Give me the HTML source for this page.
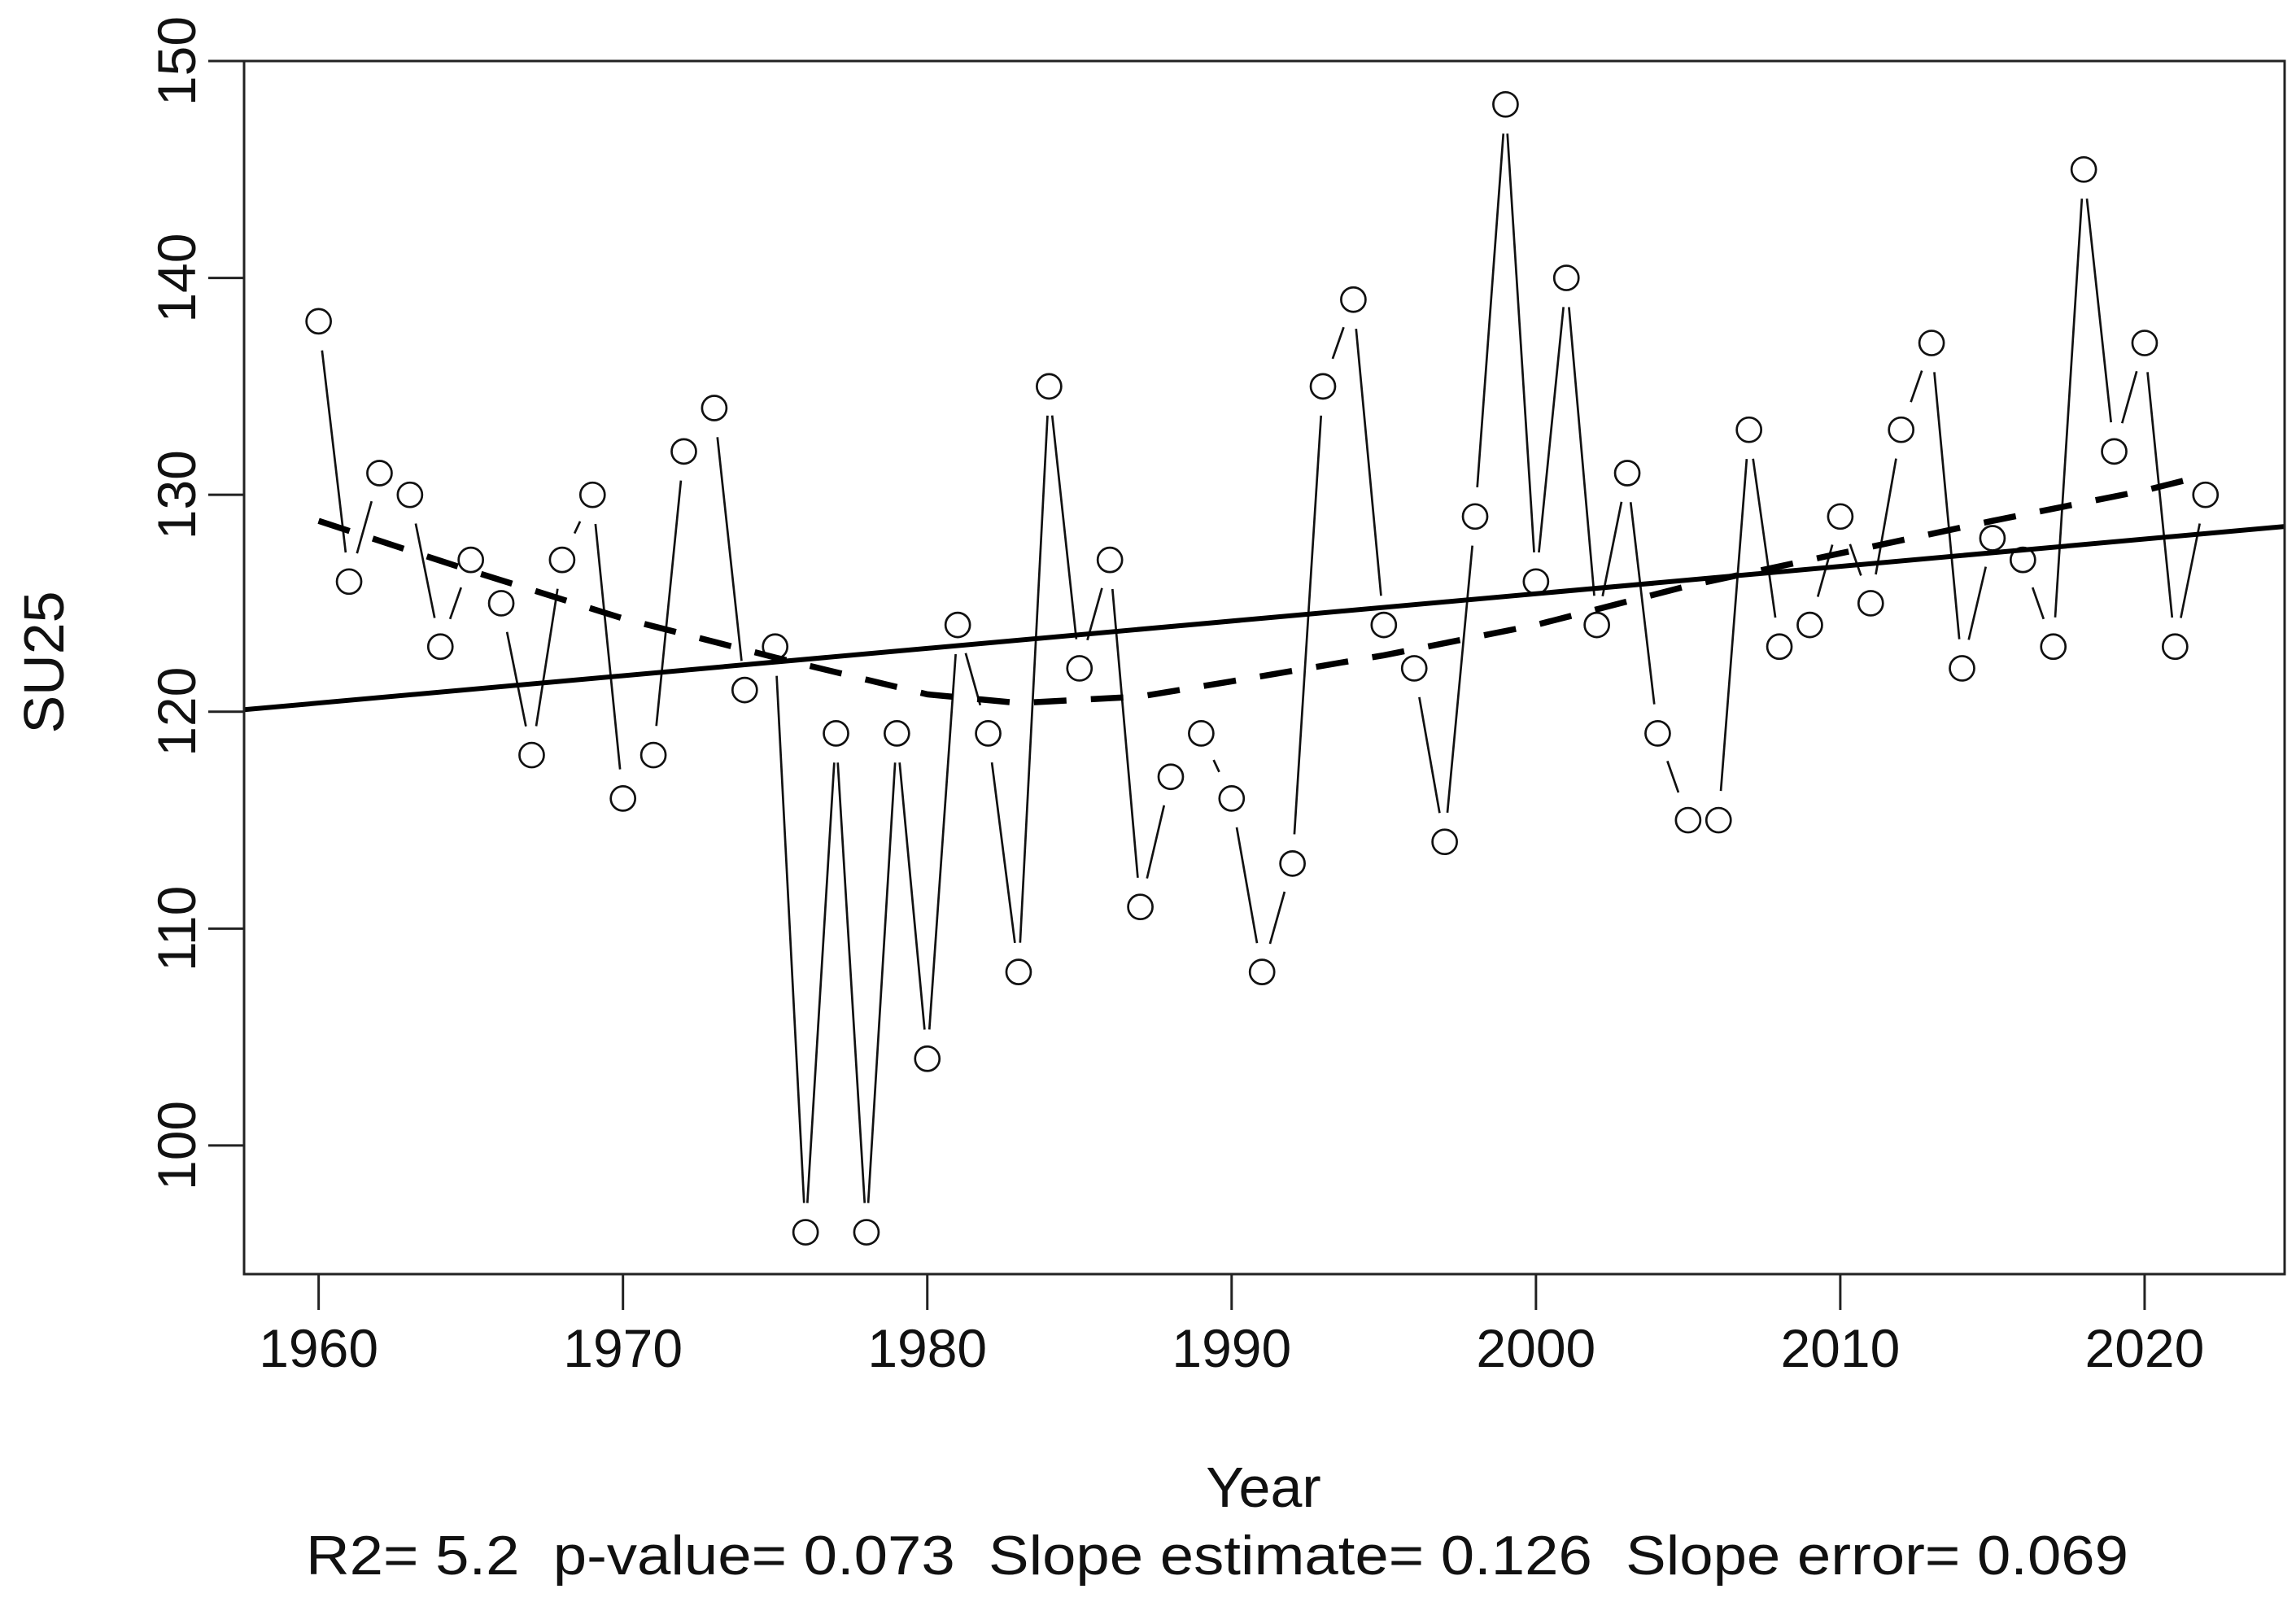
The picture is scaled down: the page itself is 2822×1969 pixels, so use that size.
<!DOCTYPE html>
<html><head><meta charset="utf-8"><style>
html,body{margin:0;padding:0;background:#fff;}
svg{display:block;}
text{font-family:"Liberation Sans",Arial,sans-serif;fill:#111;}
</style></head><body>
<svg id="chart" width="2822" height="1969" viewBox="0 0 2822 1969" xmlns="http://www.w3.org/2000/svg">
<rect x="0" y="0" width="2822" height="1969" fill="#fff"/>
<g id="series"></g>
<g id="axes"></g>
<text x="1553" y="1852" font-size="70" text-anchor="middle">Year</text>
<text transform="translate(78,814) rotate(-90)" font-size="70" text-anchor="middle">SU25</text>
<text x="376" y="1935" font-size="68" textLength="2240" lengthAdjust="spacingAndGlyphs" xml:space="preserve">R2= 5.2  p-value= 0.073  Slope estimate= 0.126  Slope error= 0.069</text>
</svg>
<script>
const years = [1960,1961,1962,1963,1964,1965,1966,1967,1968,1969,1970,1971,1972,1973,1974,1975,1976,1977,1978,1979,1980,1981,1982,1983,1984,1985,1986,1987,1988,1989,1990,1991,1992,1993,1994,1995,1996,1997,1998,1999,2000,2001,2002,2003,2004,2005,2006,2007,2008,2009,2010,2011,2012,2013,2014,2015,2016,2017,2018,2019,2020,2021,2022];
const su25 = [138,126,131,130,123,127,125,118,127,130,116,118,132,134,121,123,96,119,96,119,104,124,119,108,135,122,127,111,117,119,116,108,113,135,139,124,122,114,129,148,126,140,124,131,119,115,115,133,123,124,129,125,133,137,122,128,127,123,145,132,137,123,130];
const smoothYears = [1960,1965,1970,1975,1980,1983,1987,1990,1995,2000,2005,2010,2015,2020,2022];
const smoothVals = [128.8,126.5,124.3,122.5,120.8,120.4,120.7,121.4,122.6,124.0,125.8,127.3,128.8,130.2,130.9];
const trendIntercept = 120.4; // value at 1960
const trendSlope = 0.126;
const xTicks = [1960,1970,1980,1990,2000,2010,2020];
const yTicks = [100,110,120,130,140,150];

const L=300,R=2808,T=75,B=1566;
const X0=1957.55,X1=2024.6, Y0=94.07,Y1=150;
const sx=v=>L+(v-X0)/(X1-X0)*(R-L);
const sy=v=>B-(v-Y0)/(Y1-Y0)*(B-T);
const NS='http://www.w3.org/2000/svg';
function mk(tag,attrs,parent){const e=document.createElementNS(NS,tag);for(const k in attrs)e.setAttribute(k,attrs[k]);parent.appendChild(e);return e;}
const gs=document.getElementById('series'), ga=document.getElementById('axes');

const defs=mk('defs',{},gs);
const cp=mk('clipPath',{id:'clip'},defs);
mk('rect',{x:L,y:T,width:R-L,height:B-T},cp);

const gap=36;
for(let i=0;i<years.length-1;i++){
  const x1=sx(years[i]),y1=sy(su25[i]),x2=sx(years[i+1]),y2=sy(su25[i+1]);
  const d=Math.hypot(x2-x1,y2-y1);
  if(d<=2*gap)continue;
  const ux=(x2-x1)/d,uy=(y2-y1)/d;
  const seg=mk('line',{x1:x1+ux*gap,y1:y1+uy*gap,x2:x2-ux*gap,y2:y2-uy*gap,stroke:'#111','stroke-width':2.7},gs);
  
  
}
years.forEach((yr,i)=>{
  const c=mk('circle',{cx:sx(yr),cy:sy(su25[i]),r:15,fill:'none',stroke:'#111','stroke-width':2.7},gs);
  
  
});
const tl=mk('line',{x1:sx(X0),y1:sy(trendIntercept+trendSlope*(X0-1960)),x2:sx(X1),y2:sy(trendIntercept+trendSlope*(X1-1960)),stroke:'#000','stroke-width':6,'clip-path':'url(#clip)'},gs);


let pd='';
smoothYears.forEach((yr,i)=>{pd+=(i?'L':'M')+sx(yr).toFixed(1)+','+sy(smoothVals[i]).toFixed(1);});
const sm=mk('path',{d:pd,fill:'none',stroke:'#000','stroke-width':7.5,'stroke-dasharray':'40 30','stroke-linejoin':'round'},gs);



const fr=mk('rect',{x:L,y:T,width:R-L,height:B-T,fill:'none',stroke:'#222','stroke-width':3},ga);


xTicks.forEach(t=>{
  const x=sx(t);
  const tk=mk('line',{x1:x,y1:B,x2:x,y2:B+44,stroke:'#222','stroke-width':3},ga);
  
  
  const lb=mk('text',{x:x,y:1680,'font-size':66,'text-anchor':'middle'},ga);
  lb.textContent=t;
  
  
});
yTicks.forEach(t=>{
  const y=sy(t);
  const tk=mk('line',{x1:L-44,y1:y,x2:L,y2:y,stroke:'#222','stroke-width':3},ga);
  
  
  const lb=mk('text',{transform:'translate(240,'+y+') rotate(-90)','font-size':66,'text-anchor':'middle'},ga);
  lb.textContent=t;
  
  
});
</script>
</body></html>
